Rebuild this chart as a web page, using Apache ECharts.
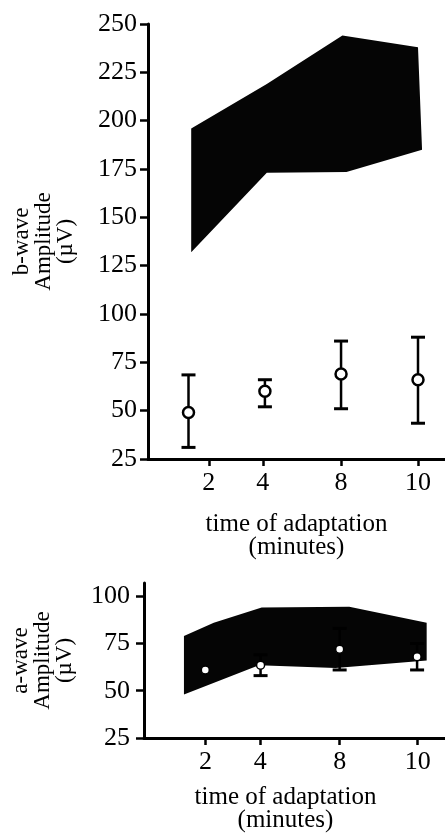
<!DOCTYPE html>
<html>
<head>
<meta charset="utf-8">
<script src="https://cdn.jsdelivr.net/npm/echarts@6/dist/echarts.min.js"></script>
<style>
  html, body { margin: 0; padding: 0; background: #fff; }
  #chart { width: 445px; height: 834px; }
</style>
</head>
<body>
<div id="chart"></div>
<script>
// x axis: tick slots are not evenly spaced in the original, so positions are in slot units
const timeLabels = ['2', '4', '8', '10']
const timeTicks = [2.25, 4.25, 7.15, 10]

// b-wave: shaded normal range (upper / lower edge) and measured points
const bBandUpper = [[1.6, 196], [4.4, 219], [7.2, 244], [10.0, 238]]
const bBandLower = [[1.6, 132], [4.4, 173], [7.35, 173.5], [10.15, 185]]
const bMeanX = [1.5, 4.33, 7.15, 10.0]
const bMean = [49, 60, 69, 66]
const bLow = [31, 52, 51, 43.5]
const bHigh = [68.5, 66, 86, 88]

// a-wave
const aBandUpper = [[1.46, 79], [2.55, 86], [4.3, 94], [7.5, 94.5], [10.33, 86]]
const aBandLower = [[1.46, 48], [4.2, 63.5], [7.0, 62], [10.33, 66]]
const aMeanX = [2.24, 4.26, 7.15, 9.98]
const aMean = [61, 63.5, 72, 68]
const aLow = [null, 58, 61, 61]
const aHigh = [null, 69, 83, 75]

const bTicks = [25, 50, 75, 100, 125, 150, 175, 200, 225, 250]
const aTicks = [25, 50, 75, 100]

const font = 'Liberation Serif'

function xAxisOpt(gridIndex, nameGap, namePad) {
  return {
    type: 'value',
    gridIndex,
    min: 0,
    max: 11,
    name: 'time of adaptation\n(minutes)',
    nameLocation: 'middle',
    nameGap,
    nameTextStyle: { fontFamily: font, fontSize: 25, lineHeight: 23, color: '#000', padding: namePad },
    axisLine: { lineStyle: { color: '#000', width: 3 } },
    axisTick: { customValues: timeTicks, length: 7, lineStyle: { color: '#000', width: 2.5 } },
    axisLabel: {
      customValues: timeTicks,
      margin: 11,
      fontFamily: font,
      fontSize: 26,
      color: '#000',
      formatter: (v) => timeLabels[timeTicks.indexOf(v)],
    },
    splitLine: { show: false },
  }
}

function yAxisOpt(gridIndex, max, ticks, name, nameGap, margin) {
  return {
    type: 'value',
    gridIndex,
    min: 25,
    max,
    interval: 25,
    name,
    nameLocation: 'middle',
    nameGap,
    nameTextStyle: { fontFamily: font, fontSize: 23, lineHeight: 22, color: '#000' },
    axisLine: { show: true, lineStyle: { color: '#000', width: 3 } },
    axisTick: { show: true, customValues: ticks, length: 8, lineStyle: { color: '#000', width: 2.5 } },
    axisLabel: { customValues: ticks, margin, fontFamily: font, fontSize: 26, color: '#000' },
    splitLine: { show: false },
  }
}

function bandSeries(idx, upper, lower) {
  return {
    type: 'custom',
    xAxisIndex: idx,
    yAxisIndex: idx,
    silent: true,
    data: [0],
    renderItem: (params, api) => {
      const pts = upper.concat(lower.slice().reverse()).map((p) => api.coord(p))
      return { type: 'polygon', shape: { points: pts }, style: { fill: '#050505' } }
    },
    z: 1,
  }
}

function errorSeries(idx, xs, lo, hi, cap) {
  const rows = []
  xs.forEach((x, i) => {
    if (lo[i] != null) rows.push([x, lo[i], hi[i]])
  })
  return {
    type: 'custom',
    xAxisIndex: idx,
    yAxisIndex: idx,
    silent: true,
    data: rows,
    encode: { x: 0, y: [1, 2] },
    renderItem: (params, api) => {
      const top = api.coord([api.value(0), api.value(2)])
      const bot = api.coord([api.value(0), api.value(1)])
      const st = { stroke: '#000', lineWidth: 2.5 }
      const capSt = { stroke: '#000', lineWidth: 3 }
      return {
        type: 'group',
        children: [
          { type: 'line', shape: { x1: top[0], y1: top[1], x2: bot[0], y2: bot[1] }, style: st },
          { type: 'line', shape: { x1: top[0] - cap, y1: top[1], x2: top[0] + cap, y2: top[1] }, style: capSt },
          { type: 'line', shape: { x1: bot[0] - cap, y1: bot[1], x2: bot[0] + cap, y2: bot[1] }, style: capSt },
        ],
      }
    },
    z: 2,
  }
}

const option = {
  animation: false,
  backgroundColor: '#fff',
  grid: [
    { left: 148, top: 24, right: -11, bottom: 375 },
    { left: 144, top: 583, right: -15, bottom: 93 },
  ],
  xAxis: [xAxisOpt(0, 54, [0, 0, 0, 0]), xAxisOpt(1, 48, [0, 18, 0, 0])],
  yAxis: [
    yAxisOpt(0, 250, bTicks, 'b-wave\nAmplitude\n(µV)', 71, 11),
    yAxisOpt(1, 107, aTicks, 'a-wave\nAmplitude\n(µV)', 68, 14),
  ],
  series: [
    bandSeries(0, bBandUpper, bBandLower),
    errorSeries(0, bMeanX, bLow, bHigh, 7),
    {
      type: 'scatter',
      xAxisIndex: 0,
      yAxisIndex: 0,
      data: bMeanX.map((x, i) => [x, bMean[i]]),
      symbol: 'circle',
      symbolSize: 11,
      itemStyle: { color: '#fff', borderColor: '#000', borderWidth: 2.5, opacity: 1 },
      z: 3,
    },
    bandSeries(1, aBandUpper, aBandLower),
    errorSeries(1, aMeanX, aLow, aHigh, 7),
    {
      type: 'scatter',
      xAxisIndex: 1,
      yAxisIndex: 1,
      data: aMeanX.map((x, i) => [x, aMean[i]]),
      symbol: 'circle',
      symbolSize: 8,
      itemStyle: { color: '#fff', borderColor: '#000', borderWidth: 1.5, opacity: 1 },
      z: 3,
    },
  ],
}

const myChart = echarts.init(document.getElementById('chart'))
myChart.setOption(option)
</script>
</body>
</html>
